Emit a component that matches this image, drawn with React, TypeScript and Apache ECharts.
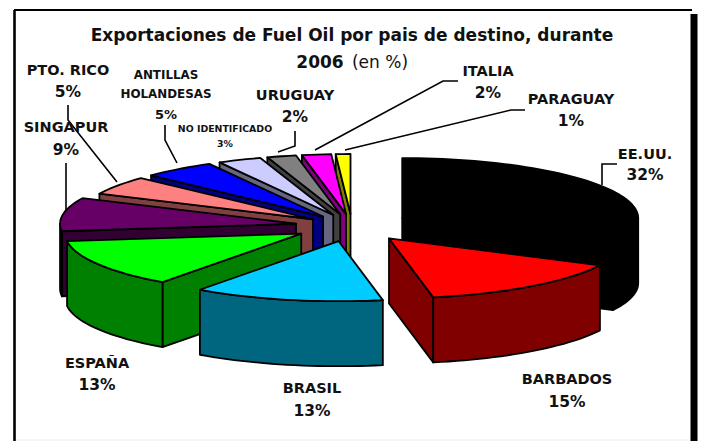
import React, { useEffect, useRef } from "react";
import * as echarts from "echarts";

const categories = ["EE.UU.", "BARBADOS", "BRASIL", "ESPAÑA", "SINGAPUR", "PTO. RICO", "ANTILLAS HOLANDESAS", "NO IDENTIFICADO", "URUGUAY", "ITALIA", "PARAGUAY"];
const values = [32.4, 14.6, 13, 13, 9, 5, 5, 3, 2, 2, 1];
const topColors = ["#000000", "#ff0000", "#00ccff", "#00ff00", "#660066", "#ff8080", "#0000ff", "#ccccff", "#808080", "#ff00ff", "#ffff00"];
const wallColors = ["#000000", "#800000", "#006680", "#008000", "#330033", "#804040", "#000080", "#666680", "#404040", "#800080", "#808000"];
const explode = [0.25, 0.26, 0.26, 0.25, 0.24, 0.2, 0.2, 0.2, 0.2, 0.2, 0.2];
const drawOrder = [10, 9, 8, 7, 6, 5, 4, 0, 3, 2, 1];

const CX = 352, CY = 226, RX = 236, RY = 60, DEPTH = 65;
const FONT = "'DejaVu Sans', sans-serif";

const starts: number[] = [];
const ends: number[] = [];
{
  const total = values.reduce((s, v) => s + v, 0);
  let acc = 0;
  values.forEach((v) => {
    starts.push((acc / total) * 360);
    acc += v;
    ends.push((acc / total) * 360);
  });
}

function renderSlice(params: any, api: any) {
  const i = api.value(0);
  const a = api.value(1);
  const b = api.value(2);
  const e = api.value(3);
  const mid = ((a + b) / 2) * (Math.PI / 180);
  const ox = Math.sin(mid) * e;
  const oy = Math.cos(mid) * e;
  const depth = (api.size([0, 1])[1] * DEPTH) / RY;
  const rim = (deg: number) => {
    const t = (deg * Math.PI) / 180;
    return api.coord([ox + Math.sin(t), oy + Math.cos(t)]);
  };
  const apex = api.coord([ox, oy]);
  const down = (p: number[]) => [p[0], p[1] + depth];
  const arc = (from: number, to: number) => {
    const n = Math.max(2, Math.ceil((to - from) / 2));
    const pts: number[][] = [];
    for (let k = 0; k <= n; k++) pts.push(rim(from + ((to - from) * k) / n));
    return pts;
  };
  const stroke = { stroke: "#000", lineWidth: 1.8, lineJoin: "round" };
  const wall = { ...stroke, fill: wallColors[i] };
  const children: any[] = [];
  const poly = (points: number[][], style: any) =>
    children.push({ type: "polygon", shape: { points }, style, silent: true });
  if (Math.sin((a * Math.PI) / 180) < 0) {
    const p = rim(a);
    poly([apex, p, down(p), down(apex)], wall);
  }
  if (Math.sin((b * Math.PI) / 180) > 0) {
    const p = rim(b);
    poly([apex, p, down(p), down(apex)], wall);
  }
  const r0 = Math.max(a, 90);
  const r1 = Math.min(b, 270);
  if (r1 > r0) {
    const top = arc(r0, r1);
    poly([...top, ...top.slice().reverse().map(down)], wall);
  }
  poly([apex, ...arc(a, b)], { ...stroke, fill: topColors[i] });
  return { type: "group", children };
}

const label = (text: string, x: number, y: number, size: number, weight: any = "bold", color = "#111") => ({
  type: "text",
  z: 6,
  silent: true,
  style: { text, x, y, fontSize: size, fontWeight: weight, fontFamily: FONT, fill: color, align: "center", verticalAlign: "middle" },
});
const leader = (points: number[][]) => ({
  type: "polyline",
  z: 5,
  silent: true,
  shape: { points },
  style: { stroke: "#000", lineWidth: 1.6, fill: "none" },
});
const pct = (i: number) => `${Math.round(values[i])}%`;

export default function App() {
  const ref = useRef<HTMLDivElement>(null);
  useEffect(() => {
    const chart = echarts.init(ref.current!, undefined, { renderer: "svg" });
    chart.setOption({
      animation: false,
      backgroundColor: "#ffffff",
      grid: { left: CX - RX, top: CY - RY, width: 2 * RX, height: 2 * RY },
      xAxis: { type: "value", min: -1, max: 1, show: false },
      yAxis: { type: "value", min: -1, max: 1, show: false },
      series: [
        {
          type: "custom",
          clip: false,
          silent: true,
          renderItem: renderSlice,
          data: drawOrder.map((i) => [i, starts[i], ends[i], explode[i]]),
        },
      ],
      graphic: {
        elements: [
          { type: "rect", z: 0, silent: true, shape: { x: 690.5, y: 14, width: 7, height: 427 }, style: { fill: "#000" } },
          { type: "line", z: 1, silent: true, shape: { x1: 14, y1: 10, x2: 692, y2: 10 }, style: { stroke: "#000", lineWidth: 2 } },
          { type: "line", z: 1, silent: true, shape: { x1: 14.5, y1: 10, x2: 14.5, y2: 441 }, style: { stroke: "#000", lineWidth: 2.6 } },
          { type: "line", z: 1, silent: true, shape: { x1: 16, y1: 440, x2: 690, y2: 440 }, style: { stroke: "#eeeeee", lineWidth: 1 } },
          label("Exportaciones de Fuel Oil por pais de destino, durante", 352, 35, 17),
          label("2006", 320, 62, 17),
          label("(en %)", 380, 62, 17, "normal"),
          label(categories[0], 645, 154, 14.5), label(pct(0), 645, 175, 15.5),
          label(categories[1], 567, 379, 14.5), label(pct(1), 567, 402, 15.5),
          label(categories[2], 312, 388, 14.5), label(pct(2), 312, 411, 15.5),
          label(categories[3], 97, 363, 14.5), label(pct(3), 97, 385, 15.5),
          label(categories[4], 66, 127, 14.5), label(pct(4), 66, 150, 15.5),
          label(categories[5], 68, 70, 14.5), label(pct(5), 68, 92, 15.5),
          label("ANTILLAS", 166, 75, 11.9), label("HOLANDESAS", 166, 94, 11.9), label(pct(6), 166, 114, 13),
          label(categories[7], 225, 128, 9.4), label(pct(7), 225, 143, 9.4),
          label(categories[8], 295, 95, 14.5), label(pct(8), 295, 117, 15.5),
          label(categories[9], 488, 71, 14.5), label(pct(9), 488, 93, 15.5),
          label(categories[10], 571, 99, 14.5), label(pct(10), 571, 121, 15.5),
          leader([[617, 164], [602, 164], [602, 185]]),
          leader([[525, 110], [511, 110], [345, 150]]),
          leader([[458, 81], [443, 81], [315, 150]]),
          leader([[295, 131], [295, 146], [278, 152]]),
          leader([[165, 125], [165, 140], [177, 163]]),
          leader([[68, 105], [68, 120], [117, 182]]),
          leader([[66, 163], [66, 210]]),
        ],
      },
    });
    return () => chart.dispose();
  }, []);
  return <div ref={ref} style={{ position: "fixed", left: 0, top: 0, width: 702, height: 441 }} />;
}
